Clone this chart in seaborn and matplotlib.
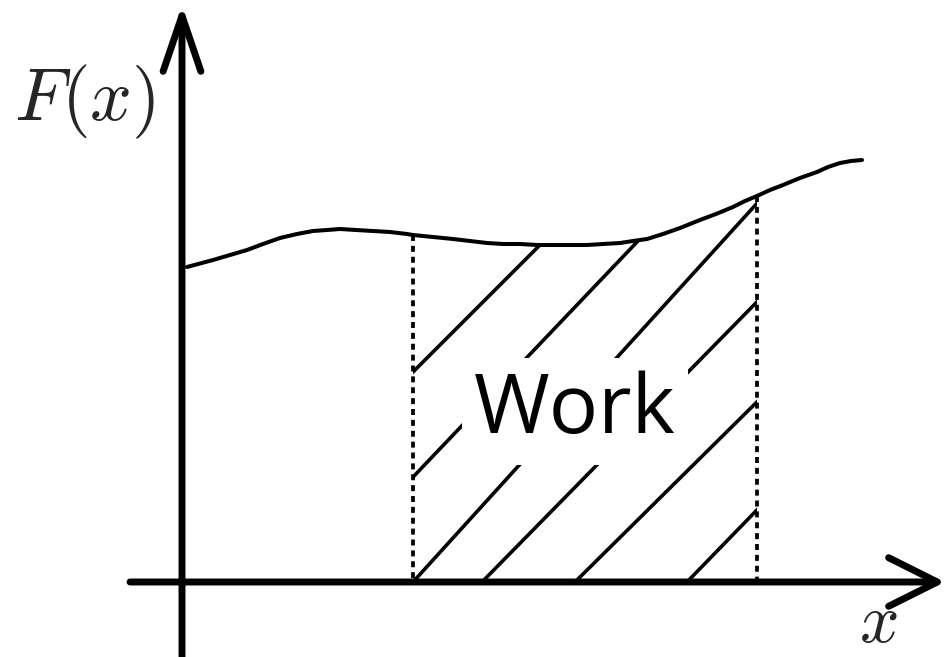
import numpy as np
import pandas as pd
import seaborn as sns
import matplotlib
matplotlib.use('Agg')
import matplotlib.pyplot as plt
from matplotlib.patches import Polygon

# force curve F(x) (pixel space, y grows downward)
curve_x = [187, 213, 230, 247, 263, 280, 297, 313, 327, 340, 356, 373, 390,
           407, 413, 433, 453, 470, 487, 503, 520, 537, 553, 570, 587, 603,
           620, 633, 647, 663, 680, 690, 700, 716, 733, 745, 757, 770, 783,
           800, 817, 828, 840, 851, 862]
curve_y = [267, 260, 255, 250, 244, 238, 234, 231, 230, 229, 230, 231, 232,
           234, 235, 237, 239, 241, 243, 244, 244, 245, 245, 245, 245, 244,
           243, 241, 239, 234, 228, 224, 220, 214, 207, 201, 196, 190, 185,
           178, 172, 167, 163, 161, 160]

# limits of the integral
work_from = 413
work_to = 757

# hatch strokes: x where each stroke meets the axis line and the y=200 level
hatch_base_x = [203, 313, 413, 482, 575, 687]
hatch_top_x = [585, 677, 760, 857, 961, 1058]

axis_y = 582
axis_x = 182
hatch_ref_y = 200

sns.set_theme(style='white')
plt.rcParams['mathtext.fontset'] = 'cm'
plt.rcParams['font.family'] = ['Open Sans', 'DejaVu Sans']

fig = plt.figure(figsize=(9.46, 6.57), dpi=100)
ax = fig.add_axes([0, 0, 1, 1])
ax.set_xlim(0, 946)
ax.set_ylim(657, 0)
ax.axis('off')

curve = pd.DataFrame({'x': curve_x, 'y': curve_y})
sns.lineplot(data=curve, x='x', y='y', ax=ax, color='black', lw=2.9,
             estimator=None, sort=False, zorder=4)

# region under the curve between the limits, used to clip the hatching
inside = curve[(curve.x >= work_from) & (curve.x <= work_to)]
verts = list(zip(inside.x, inside.y)) + [(work_to, axis_y), (work_from, axis_y)]
region = Polygon(verts, closed=True, fc='none', ec='none',
                 transform=ax.transData)
ax.add_patch(region)

for xb, xt in zip(hatch_base_x, hatch_top_x):
  ln, = ax.plot([xb, xt], [axis_y, hatch_ref_y], color='black', lw=2.6,
                solid_capstyle='butt', zorder=2)
  ln.set_clip_path(region)

# dotted limits
top = dict(zip(curve_x, curve_y))
for xv in (work_from, work_to):
  ax.plot([xv, xv], [top[xv], axis_y], color='black', lw=2.7,
          ls=(0, (1.6, 1.3)), zorder=3)

ax.text(575, 433, 'Work', fontsize=59, ha='center', va='baseline',
        color='black', zorder=3,
        bbox=dict(boxstyle='square,pad=0.15', fc='white', ec='none'))

# axes with open arrow heads
ax.annotate('', xy=(axis_x, 5), xytext=(axis_x, 660),
            arrowprops=dict(arrowstyle='->,head_length=1.0,head_width=0.34',
                            lw=5, color='black', shrinkA=0, shrinkB=0,
                            mutation_scale=40), zorder=5)
ax.annotate('', xy=(945, axis_y), xytext=(130, axis_y),
            arrowprops=dict(arrowstyle='->,head_length=1.0,head_width=0.5',
                            lw=5, color='black', shrinkA=0, shrinkB=0,
                            mutation_scale=35), zorder=5)

ax.text(14, 120, r'$F(x)$', fontsize=53, ha='left', va='baseline')
ax.text(878, 624, r'$x$', fontsize=50, ha='center', va='center')

fig.savefig('out.png', dpi=100, facecolor='white')
